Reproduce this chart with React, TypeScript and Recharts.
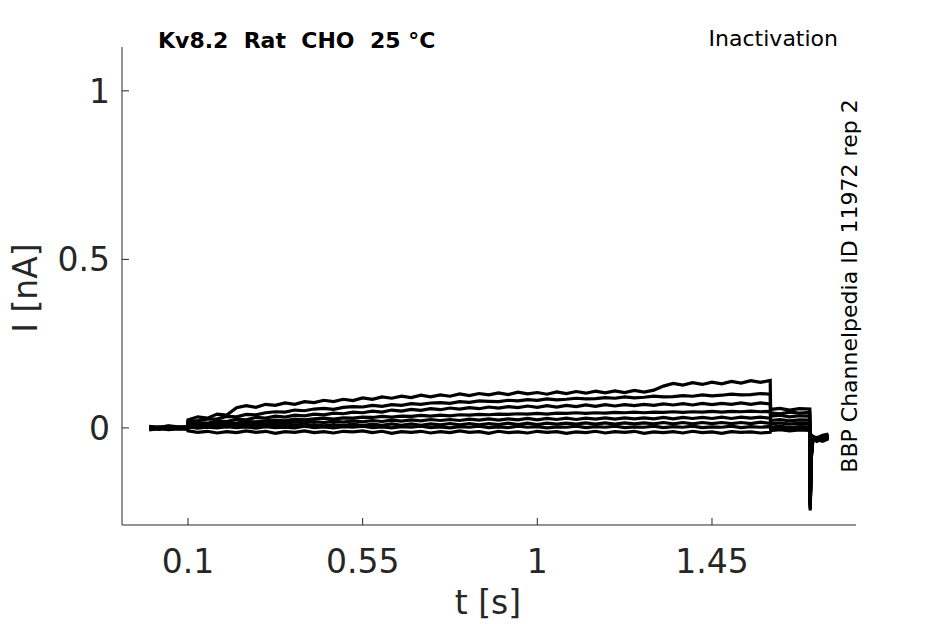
import { LineChart, Line, XAxis, YAxis } from 'recharts';

// time base [s]: holding, conditioning pulse, test pulse, capacitive spike, return
const T = [
  0, 0.025, 0.05, 0.075, 0.099,
  0.1, 0.125, 0.15, 0.175, 0.2, 0.225, 0.25, 0.275, 0.3, 0.325, 0.35, 0.375, 0.4, 0.425, 0.45, 0.475,
  0.5, 0.525, 0.55, 0.575, 0.6, 0.625, 0.65, 0.675, 0.7, 0.725, 0.75, 0.775, 0.8, 0.825, 0.85, 0.875,
  0.9, 0.925, 0.95, 0.975, 1.0, 1.025, 1.05, 1.075, 1.1, 1.125, 1.15, 1.175, 1.2, 1.225, 1.25, 1.275,
  1.3, 1.325, 1.35, 1.375, 1.4, 1.425, 1.45, 1.475, 1.5, 1.525, 1.55, 1.575, 1.6,
  1.601, 1.625, 1.65, 1.675, 1.702,
  1.703, 1.706, 1.71,
  1.72, 1.735, 1.75,
];

// currents [nA], one sweep per array
const SWEEP_A = [
  0.004, 0.001, 0.005, 0.002, 0.004,
  0.024, 0.033, 0.029, 0.041, 0.038, 0.06, 0.066, 0.061, 0.07, 0.067, 0.074, 0.07, 0.078, 0.075, 0.082, 0.078,
  0.085, 0.081, 0.089, 0.085, 0.092, 0.088, 0.094, 0.09, 0.097, 0.092, 0.098, 0.094, 0.101, 0.096, 0.102, 0.098,
  0.104, 0.099, 0.106, 0.101, 0.105, 0.1, 0.107, 0.102, 0.108, 0.103, 0.109, 0.104, 0.11, 0.105, 0.111, 0.106,
  0.112, 0.124, 0.132, 0.127, 0.134, 0.129, 0.136, 0.131, 0.138, 0.133, 0.14, 0.135, 0.141,
  0.055, 0.058, 0.053, 0.057, 0.056,
  -0.245, -0.09, -0.035,
  -0.03, -0.022, -0.018,
];
const SWEEP_B = [
  -0.002, 0.003, -0.001, 0.002, 0.0,
  0.019, 0.022, 0.026, 0.027, 0.034, 0.033, 0.04, 0.039, 0.045, 0.048, 0.047, 0.053, 0.051, 0.056, 0.058, 0.055,
  0.061, 0.063, 0.062, 0.067, 0.064, 0.069, 0.067, 0.072, 0.07, 0.074, 0.075, 0.073, 0.078, 0.076, 0.08, 0.079,
  0.078, 0.082, 0.08, 0.084, 0.082, 0.086, 0.083, 0.085, 0.088, 0.086, 0.087, 0.09, 0.088, 0.092, 0.089, 0.091,
  0.094, 0.092, 0.093, 0.096, 0.094, 0.098, 0.095, 0.097, 0.1, 0.098, 0.099, 0.102, 0.1,
  0.045, 0.042, 0.047, 0.044, 0.046,
  -0.24, -0.085, -0.03,
  -0.035, -0.028, -0.02,
];
const SWEEP_C = [
  0.001, -0.003, 0.002, -0.001, 0.002,
  0.011, 0.016, 0.014, 0.021, 0.019, 0.026, 0.024, 0.031, 0.029, 0.035, 0.032, 0.038, 0.036, 0.041, 0.039, 0.044,
  0.042, 0.047, 0.045, 0.05, 0.047, 0.053, 0.05, 0.055, 0.052, 0.057, 0.054, 0.059, 0.056, 0.06, 0.057, 0.062,
  0.059, 0.063, 0.06, 0.065, 0.061, 0.066, 0.062, 0.067, 0.063, 0.068, 0.064, 0.069, 0.065, 0.069, 0.066, 0.07,
  0.067, 0.071, 0.068, 0.072, 0.068, 0.073, 0.069, 0.073, 0.07, 0.074, 0.07, 0.074, 0.071,
  0.035, 0.038, 0.033, 0.036, 0.035,
  -0.235, -0.08, -0.028,
  -0.028, -0.032, -0.024,
];
const SWEEP_D = [
  -0.004, 0.0, -0.003, 0.001, -0.002,
  0.009, 0.008, 0.013, 0.012, 0.016, 0.014, 0.019, 0.018, 0.021, 0.023, 0.021, 0.026, 0.024, 0.027, 0.029, 0.026,
  0.03, 0.029, 0.032, 0.031, 0.034, 0.032, 0.035, 0.034, 0.037, 0.035, 0.038, 0.036, 0.039, 0.038, 0.04, 0.039,
  0.041, 0.04, 0.042, 0.041, 0.043, 0.041, 0.044, 0.043, 0.045, 0.043, 0.045, 0.044, 0.046, 0.045, 0.047, 0.045,
  0.047, 0.046, 0.048, 0.046, 0.048, 0.047, 0.049, 0.047, 0.049, 0.048, 0.05, 0.048, 0.049,
  0.022, 0.025, 0.021, 0.024, 0.023,
  -0.23, -0.075, -0.026,
  -0.038, -0.03, -0.026,
];
const SWEEP_E = [
  0.005, 0.002, 0.006, 0.003, 0.004,
  0.005, 0.009, 0.006, 0.011, 0.008, 0.013, 0.01, 0.015, 0.012, 0.016, 0.013, 0.018, 0.015, 0.019, 0.016, 0.02,
  0.017, 0.021, 0.018, 0.022, 0.019, 0.023, 0.02, 0.024, 0.021, 0.025, 0.022, 0.025, 0.022, 0.026, 0.023, 0.027,
  0.023, 0.027, 0.024, 0.028, 0.024, 0.028, 0.025, 0.029, 0.025, 0.029, 0.026, 0.03, 0.026, 0.03, 0.027, 0.03,
  0.027, 0.031, 0.027, 0.031, 0.028, 0.031, 0.028, 0.032, 0.028, 0.032, 0.029, 0.032, 0.029,
  0.012, 0.015, 0.011, 0.014, 0.013,
  -0.225, -0.072, -0.027,
  -0.03, -0.036, -0.028,
];
const SWEEP_F = [
  -0.006, -0.002, -0.005, -0.003, -0.004,
  0.001, 0.005, 0.002, 0.006, 0.003, 0.007, 0.004, 0.008, 0.004, 0.009, 0.005, 0.009, 0.006, 0.01, 0.006, 0.01,
  0.007, 0.011, 0.007, 0.011, 0.008, 0.012, 0.008, 0.012, 0.008, 0.012, 0.009, 0.013, 0.009, 0.013, 0.009, 0.013,
  0.01, 0.014, 0.01, 0.014, 0.01, 0.014, 0.011, 0.014, 0.011, 0.015, 0.011, 0.015, 0.011, 0.015, 0.012, 0.015,
  0.012, 0.016, 0.012, 0.016, 0.012, 0.016, 0.013, 0.016, 0.013, 0.016, 0.013, 0.017, 0.013,
  0.002, 0.005, 0.001, 0.004, 0.003,
  -0.228, -0.078, -0.03,
  -0.04, -0.033, -0.03,
];
const SWEEP_G = [
  0.0, -0.004, 0.001, -0.002, -0.001,
  -0.009, -0.013, -0.01, -0.015, -0.011, -0.014, -0.009, -0.013, -0.01, -0.016, -0.011, -0.013, -0.009, -0.014, -0.011, -0.015,
  -0.01, -0.012, -0.009, -0.014, -0.01, -0.016, -0.011, -0.013, -0.01, -0.015, -0.011, -0.014, -0.009, -0.013, -0.011, -0.016,
  -0.01, -0.014, -0.012, -0.015, -0.01, -0.013, -0.011, -0.016, -0.012, -0.014, -0.01, -0.015, -0.011, -0.013, -0.01, -0.016,
  -0.012, -0.014, -0.011, -0.015, -0.01, -0.014, -0.012, -0.016, -0.011, -0.013, -0.012, -0.015, -0.013,
  -0.008, -0.005, -0.009, -0.006, -0.007,
  -0.232, -0.082, -0.033,
  -0.034, -0.04, -0.032,
];
const SWEEP_H = [
  -0.001, 0.001, -0.002, 0.0, 0.001,
  0.003, -0.001, 0.002, 0.0, 0.004, 0.001, 0.003, -0.001, 0.004, 0.001, 0.002, 0.0, 0.005, 0.001, 0.003, 0.0,
  0.004, 0.002, 0.005, 0.001, 0.003, 0.0, 0.004, 0.002, 0.005, 0.001, 0.003, 0.0, 0.004, 0.002, 0.005, 0.001,
  0.003, 0.001, 0.005, 0.002, 0.004, 0.0, 0.003, 0.002, 0.005, 0.001, 0.004, 0.002, 0.005, 0.001, 0.003, 0.002,
  0.005, 0.001, 0.004, 0.002, 0.005, 0.001, 0.003, 0.002, 0.005, 0.001, 0.004, 0.002, 0.004,
  -0.002, 0.001, -0.003, 0.0, -0.001,
  -0.22, -0.07, -0.025,
  -0.032, -0.026, -0.022,
];

const SWEEPS = [SWEEP_A, SWEEP_B, SWEEP_C, SWEEP_D, SWEEP_E, SWEEP_F, SWEEP_G, SWEEP_H];
const X_TICKS = [0.1, 0.55, 1, 1.45];
const Y_TICKS = [0, 0.5, 1];

const data = T.map((t, i) => {
  const row: Record<string, number> = { t };
  SWEEPS.forEach((s, k) => {
    row['s' + k] = s[i];
  });
  return row;
});

const FONT = 'DejaVu Sans, sans-serif';
const INK = '#262626';

export default function App() {
  return (
    <div style={{ position: 'absolute', left: 0, top: 0, width: 945, height: 624, background: '#fff' }}>
      <LineChart width={945} height={624} data={data} margin={{ top: 47, right: 89, bottom: 59, left: 62 }}>
        <XAxis
          dataKey="t"
          type="number"
          domain={[-0.07, 1.821]}
          ticks={X_TICKS}
          allowDataOverflow
          height={40}
          tickSize={-7}
          tickMargin={32}
          stroke={INK}
          tick={{ fill: INK, fontSize: 33, fontFamily: FONT }}
        />
        <YAxis
          type="number"
          domain={[-0.288, 1.13]}
          ticks={Y_TICKS}
          allowDataOverflow
          width={60}
          tickSize={-7}
          tickMargin={19}
          stroke={INK}
          tick={{ fill: INK, fontSize: 33, fontFamily: FONT }}
        />
        {SWEEPS.map((_, k) => (
          <Line
            key={k}
            dataKey={'s' + k}
            type="linear"
            stroke="#000"
            strokeWidth={3.2}
            dot={false}
            isAnimationActive={false}
          />
        ))}
      </LineChart>
      <svg width={945} height={624} style={{ position: 'absolute', left: 0, top: 0, pointerEvents: 'none' }}>
        <text x={158} y={48} fontFamily={FONT} fontSize={22} fontWeight="bold" fill="#000" style={{ whiteSpace: 'pre' }}>
          {'Kv8.2  Rat  CHO  25 °C'}
        </text>
        <text x={838} y={46} fontFamily={FONT} fontSize={22} textAnchor="end" fill="#000">
          Inactivation
        </text>
        <text
          x={857}
          y={286}
          fontFamily={FONT}
          fontSize={22}
          textAnchor="middle"
          fill="#000"
          transform="rotate(-90 857 286)"
        >
          BBP Channelpedia ID 11972 rep 2
        </text>
        <text x={488} y={614} fontFamily={FONT} fontSize={33} textAnchor="middle" fill={INK}>
          t [s]
        </text>
        <text
          x={37}
          y={288}
          fontFamily={FONT}
          fontSize={33}
          textAnchor="middle"
          fill={INK}
          transform="rotate(-90 37 288)"
        >
          I [nA]
        </text>
      </svg>
    </div>
  );
}
